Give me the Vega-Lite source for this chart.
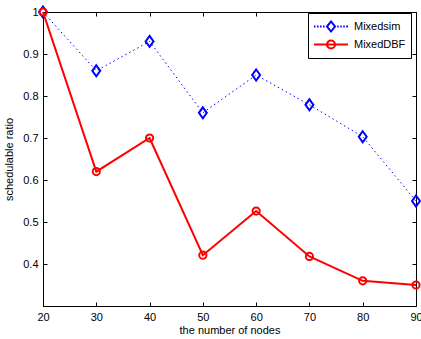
{
  "$schema": "https://vega.github.io/schema/vega-lite/v6.json",
  "width": 373,
  "height": 294,
  "autosize": {"type": "none"},
  "padding": {"left": 43, "top": 12, "right": 5, "bottom": 33},
  "background": "white",
  "config": {
    "font": "Liberation Sans",
    "view": {"stroke": "black", "strokeWidth": 1},
    "axis": {
      "domainColor": "black",
      "tickColor": "black",
      "labelColor": "black",
      "titleColor": "black",
      "labelFont": "Liberation Sans",
      "titleFont": "Liberation Sans",
      "labelFontSize": 11,
      "titleFontSize": 11,
      "titleFontWeight": "normal",
      "grid": false,
      "tickSize": -4,
      "labelPadding": 9,
      "labelFlush": false,
      "labelOverlap": false
    },
    "legend": {
      "orient": "none",
      "legendX": 265,
      "legendY": 1,
      "strokeColor": "black",
      "fillColor": "white",
      "padding": 5,
      "symbolSize": 225,
      "symbolStrokeWidth": 2,
      "symbolOpacity": 1,
      "labelFont": "Liberation Sans",
      "labelFontSize": 11,
      "labelColor": "black",
      "labelOffset": 24,
      "rowPadding": 0
    }
  },
  "data": {
    "values": [
      {"nodes": 20, "series": "Mixedsim", "ratio": 1.0},
      {"nodes": 30, "series": "Mixedsim", "ratio": 0.86},
      {"nodes": 40, "series": "Mixedsim", "ratio": 0.93},
      {"nodes": 50, "series": "Mixedsim", "ratio": 0.76},
      {"nodes": 60, "series": "Mixedsim", "ratio": 0.85},
      {"nodes": 70, "series": "Mixedsim", "ratio": 0.779},
      {"nodes": 80, "series": "Mixedsim", "ratio": 0.703},
      {"nodes": 90, "series": "Mixedsim", "ratio": 0.55},
      {"nodes": 20, "series": "MixedDBF", "ratio": 1.0},
      {"nodes": 30, "series": "MixedDBF", "ratio": 0.62},
      {"nodes": 40, "series": "MixedDBF", "ratio": 0.70},
      {"nodes": 50, "series": "MixedDBF", "ratio": 0.421},
      {"nodes": 60, "series": "MixedDBF", "ratio": 0.526},
      {"nodes": 70, "series": "MixedDBF", "ratio": 0.418},
      {"nodes": 80, "series": "MixedDBF", "ratio": 0.36},
      {"nodes": 90, "series": "MixedDBF", "ratio": 0.35}
    ]
  },
  "layer": [
    {
      "transform": [{"filter": "datum.series === 'Mixedsim'"}],
      "mark": {"type": "line", "color": "#0000ff", "strokeWidth": 1, "strokeDash": [1.5, 3]},
      "encoding": {
        "x": {"field": "nodes", "type": "quantitative", "scale": {"domain": [20, 90], "nice": false},
              "axis": {"orient": "bottom", "values": [20, 30, 40, 50, 60, 70, 80, 90], "title": "the number of nodes", "titlePadding": 2}},
        "y": {"field": "ratio", "type": "quantitative", "scale": {"domain": [0.3, 1], "nice": false, "zero": false},
              "axis": {"orient": "left", "values": [0.4, 0.5, 0.6, 0.7, 0.8, 0.9, 1], "format": ".1~f", "title": "schedulable ratio", "titlePadding": 8}}
      }
    },
    {
      "transform": [{"filter": "datum.series === 'Mixedsim'"}],
      "mark": {"type": "point", "shape": "M0,-1L0.72,0L0,1L-0.72,0Z", "size": 121, "filled": false, "color": "#0000ff", "strokeWidth": 2, "opacity": 1},
      "encoding": {
        "x": {"field": "nodes", "type": "quantitative",
              "axis": {"orient": "top", "values": [20, 30, 40, 50, 60, 70, 80, 90], "labels": false, "title": null, "domain": false}},
        "y": {"field": "ratio", "type": "quantitative",
              "axis": {"orient": "right", "values": [0.4, 0.5, 0.6, 0.7, 0.8, 0.9, 1], "labels": false, "title": null, "domain": false}}
      }
    },
    {
      "transform": [{"filter": "datum.series === 'MixedDBF'"}],
      "mark": {"type": "line", "color": "#ff0000", "strokeWidth": 2},
      "encoding": {
        "x": {"field": "nodes", "type": "quantitative", "axis": null},
        "y": {"field": "ratio", "type": "quantitative", "axis": null}
      }
    },
    {
      "transform": [{"filter": "datum.series === 'MixedDBF'"}],
      "mark": {"type": "point", "shape": "circle", "size": 52, "filled": false, "color": "#ff0000", "strokeWidth": 2, "opacity": 1},
      "encoding": {
        "x": {"field": "nodes", "type": "quantitative", "axis": null},
        "y": {"field": "ratio", "type": "quantitative", "axis": null}
      }
    },
    {
      "transform": [{"filter": "false"}],
      "mark": {"type": "point", "filled": false, "opacity": 1, "strokeWidth": 2},
      "encoding": {
        "x": {"field": "nodes", "type": "quantitative", "axis": null},
        "y": {"field": "ratio", "type": "quantitative", "axis": null},
        "color": {
          "field": "series", "type": "nominal",
          "scale": {"domain": ["Mixedsim", "MixedDBF"], "range": ["#0000ff", "#ff0000"]},
          "legend": {"title": null}
        },
        "shape": {
          "field": "series", "type": "nominal",
          "scale": {
            "domain": ["Mixedsim", "MixedDBF"],
            "range": [
              "M-1,0H-0.8M-0.6,0H-0.4M-0.2,0H0M0.2,0H0.4M2.1,0H2.3M2.5,0H2.7M2.9,0H3.1M3.3,0H3.53M1.267,-0.667L1.8,0L1.267,0.667L0.733,0Z",
              "M-1,0H3.533M1.8,0A0.533,0.533 0 1,1 0.733,0A0.533,0.533 0 1,1 1.8,0Z"
            ]
          },
          "legend": {"title": null}
        }
      }
    }
  ],
  "resolve": {"axis": {"x": "independent", "y": "independent"}}
}
